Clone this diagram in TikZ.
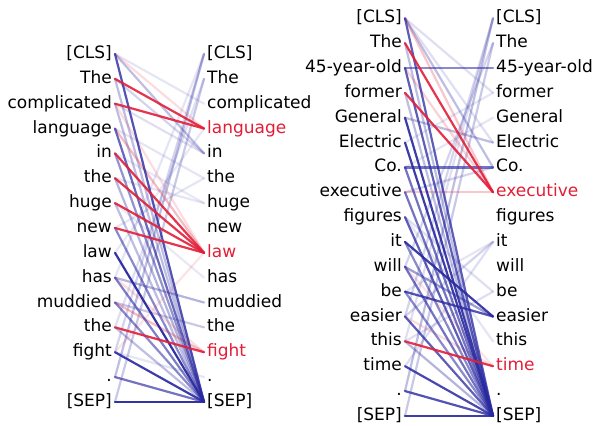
\documentclass[tikz,border=0pt]{standalone}
\usepackage{fontspec}
\setmainfont{DejaVu Sans}
\definecolor{tokred}{RGB}{226,30,55}
\definecolor{tokblue}{RGB}{40,40,160}
\tikzset{
	tok/.style={inner xsep=3pt,inner ysep=0pt,text height=12pt,text depth=3pt,font=\fontsize{17}{18}\selectfont},
	att/.style={line width=2.2pt,line cap=round}
}
\begin{document}
\begin{tikzpicture}[x=1pt,y=-1pt]
	\useasboundingbox (0,0) rectangle (596,425);
	
	% first sentence, left and right columns
	\foreach \w/\c [count=\i from 0] in {[CLS]/black,The/black,complicated/black,language/black,in/black,the/black,huge/black,new/black,law/black,has/black,muddied/black,the/black,fight/black,./black,[SEP]/black}
		\node[tok,anchor=east,text=\c] (a\i) at (115,{54+24.85*\i}) {\w};
	\foreach \w/\c [count=\i from 0] in {[CLS]/black,The/black,complicated/black,language/tokred,in/black,the/black,huge/black,new/black,law/tokred,has/black,muddied/black,the/black,fight/tokred,./black,[SEP]/black}
		\node[tok,anchor=west,text=\c] (b\i) at (204,{54+24.85*\i}) {\w};
	
	% second sentence
	\foreach \w/\c [count=\i from 0] in {[CLS]/black,The/black,45-year-old/black,former/black,General/black,Electric/black,Co./black,executive/black,figures/black,it/black,will/black,be/black,easier/black,this/black,time/black,./black,[SEP]/black}
		\node[tok,anchor=east,text=\c] (c\i) at (405,{18.3+24.85*\i}) {\w};
	\foreach \w/\c [count=\i from 0] in {[CLS]/black,The/black,45-year-old/black,former/black,General/black,Electric/black,Co./black,executive/tokred,figures/black,it/black,will/black,be/black,easier/black,this/black,time/tokred,./black,[SEP]/black}
		\node[tok,anchor=west,text=\c] (d\i) at (493,{18.3+24.85*\i}) {\w};
	
	% faint attention, first sentence
	\foreach \i/\j/\o in {0/4/0.3,1/4/0.2,0/2/0.12,2/4/0.15,3/5/0.12,13/0/0.3,14/1/0.25,12/0/0.2,11/1/0.15,9/0/0.12,7/5/0.12,6/9/0.1,5/6/0.12,8/3/0.1,10/11/0.25,9/10/0.35,4/6/0.1,12/13/0.12,2/14/0.3,1/14/0.3,6/14/0.3,5/14/0.35,11/14/0.3}
		\draw[att,tokblue,opacity=\o] (a\i.east) -- (b\j.west);
	\foreach \i/\j/\o in {3/8/0.3,10/12/0.3,9/12/0.15,2/8/0.15,12/8/0.12,0/3/0.15}
		\draw[att,tokred,opacity=\o] (a\i.east) -- (b\j.west);
	
	% strong attention, first sentence
	\foreach \i/\j/\o in {0/14/0.8,3/14/0.7,4/14/0.5,7/14/0.55,8/14/0.95,9/14/0.6,10/14/0.55,12/14/0.9,13/14/0.65,14/14/0.95}
		\draw[att,tokblue,opacity=\o] (a\i.east) -- (b\j.west);
	\foreach \i/\j in {1/3,2/3,4/8,5/8,6/8,7/8,11/12}
		\draw[att,tokred,opacity=0.9] (a\i.east) -- (b\j.west);
	
	% faint attention, second sentence
	\foreach \i/\j/\o in {4/5/0.3,0/6/0.3,0/3/0.15,0/5/0.15,15/0/0.3,16/1/0.25,12/0/0.2,10/1/0.2,13/0/0.15,12/9/0.2,14/9/0.15,8/11/0.15,13/11/0.15,7/6/0.2,5/3/0.12,6/4/0.12,3/16/0.3,1/16/0.3,13/16/0.35,8/13/0.12,11/9/0.12}
		\draw[att,tokblue,opacity=\o] (c\i.east) -- (d\j.west);
	\foreach \i/\j/\o in {0/7/0.25,2/7/0.2,7/7/0.25,12/14/0.15,10/14/0.12}
		\draw[att,tokred,opacity=\o] (c\i.east) -- (d\j.west);
	
	% strong attention, second sentence
	\foreach \i/\j/\o in {0/16/0.75,2/2/0.55,2/16/0.75,4/16/0.9,5/16/0.9,6/6/0.65,6/16/0.65,7/16/0.65,8/16/0.75,9/12/0.9,9/16/0.55,10/16/0.65,10/12/0.45,11/12/0.8,11/16/0.55,12/16/0.75,14/16/0.85,15/16/0.8,16/16/0.9}
		\draw[att,tokblue,opacity=\o] (c\i.east) -- (d\j.west);
	\foreach \i/\j in {1/7,3/7,13/14}
		\draw[att,tokred,opacity=0.9] (c\i.east) -- (d\j.west);
\end{tikzpicture}
\end{document}
